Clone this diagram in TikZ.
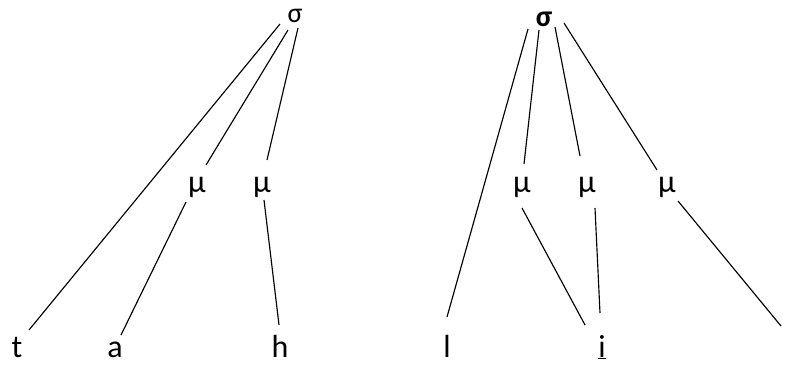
\documentclass[tikz,border=0pt]{standalone}
\usepackage{fontspec}
\setmainfont{Carlito}
\begin{document}
\begin{tikzpicture}[x=1pt,y=-1pt,
  lab/.style={anchor=base,inner sep=0pt,font=\fontsize{32}{32}\selectfont},
  top/.style={lab,text height=1ex},
  edge/.style={line width=1.15pt,black}]
\useasboundingbox (0,0) rectangle (785,365);
% left tree
\node[top,font=\fontsize{28}{28}\selectfont] (s1) at (295,22) {σ};
\node[lab] (m1) at (197,192) {μ};
\node[lab] (m2) at (262,192) {μ};
\node[lab] (t) at (17,357) {t};
\node[lab] (a) at (115,357) {a};
\node[lab] (h) at (280,357) {h};
% right tree
\node[top,font=\fontsize{30}{30}\selectfont\bfseries] (s2) at (544,26) {σ};
\node[lab] (m3) at (522,192) {μ};
\node[lab] (m4) at (587,192) {μ};
\node[lab] (m5) at (667,192) {μ};
\node[lab] (l) at (447,357) {l};
\node[lab] (i) at (602,357) {\underline{i}};
\coordinate (e) at (781,326);
% left edges
\draw[edge] ([shift={(-15,2)}]s1.base) -- ([shift={(12,-27)}]t.base);
\draw[edge] ([shift={(-7,8)}]s1.base) -- ([shift={(9,-27)}]m1.base);
\draw[edge] ([shift={(3,6)}]s1.base) -- ([shift={(5,-32)}]m2.base);
\draw[edge] ([shift={(-11,10)}]m1.base) -- ([shift={(6,-22)}]a.base);
\draw[edge] ([shift={(2,8)}]m2.base) -- ([shift={(-1,-32)}]h.base);
% right edges
\draw[edge] ([shift={(-16,3)}]s2.base) -- ([shift={(0,-40)}]l.base);
\draw[edge] ([shift={(-5,4)}]s2.base) -- ([shift={(2,-28)}]m3.base);
\draw[edge] ([shift={(11,1)}]s2.base) -- ([shift={(-7,-36)}]m4.base);
\draw[edge] ([shift={(20,-3)}]s2.base) -- ([shift={(-10,-22)}]m5.base);
\draw[edge] ([shift={(0,16)}]m3.base) -- ([shift={(-17,-32)}]i.base);
\draw[edge] ([shift={(8,16)}]m4.base) -- ([shift={(-2,-44)}]i.base);
\draw[edge] ([shift={(11,9)}]m5.base) -- (e);
\end{tikzpicture}
\end{document}
